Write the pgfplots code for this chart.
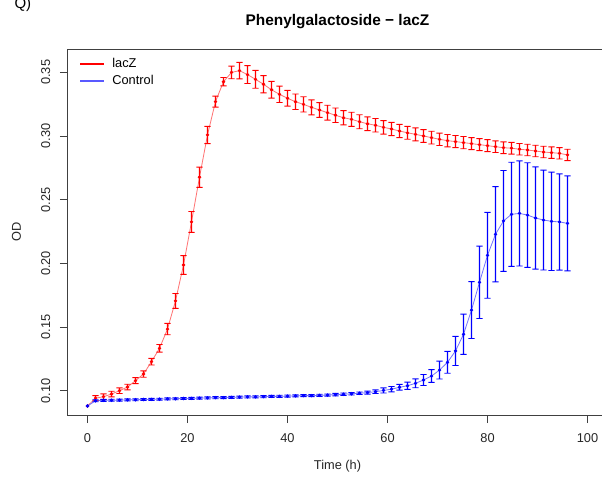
\documentclass[border=0pt]{standalone}
\usepackage{pgfplots}
\pgfplotsset{compat=1.18}
\usepackage{pgfplotstable}
\usepackage{fontspec}
\setmainfont{Liberation Sans}

\pgfdeclareplotmark{ebar}{%
  \ifdim\pgfplotmarksize>0.2bp
  \pgfpathrectangle{\pgfpoint{-0.7bp}{-\pgfplotmarksize}}{\pgfpoint{1.4bp}{2\pgfplotmarksize}}%
  \pgfpathrectangle{\pgfpoint{-3.2bp}{\pgfplotmarksize-0.45bp}}{\pgfpoint{6.4bp}{0.9bp}}%
  \pgfpathrectangle{\pgfpoint{-3.2bp}{-\pgfplotmarksize-0.45bp}}{\pgfpoint{6.4bp}{0.9bp}}%
  \pgfusepathqfill
  \fi}

\pgfplotstableread{
t y e
0 0.0880 0.0000
1.6 0.0941 0.0020
3.2 0.0953 0.0022
4.8 0.0974 0.0022
6.4 0.1000 0.0022
8.0 0.1029 0.0022
9.6 0.1079 0.0024
11.2 0.1131 0.0025
12.8 0.1228 0.0026
14.4 0.1333 0.0030
16.0 0.1484 0.0045
17.6 0.1705 0.0058
19.2 0.1987 0.0074
20.8 0.2325 0.0082
22.4 0.2676 0.0080
24.0 0.3008 0.0068
25.6 0.3270 0.0043
27.2 0.3426 0.0033
28.8 0.3499 0.0050
30.4 0.3513 0.0065
32.0 0.3482 0.0070
33.6 0.3445 0.0070
35.2 0.3406 0.0068
36.8 0.3363 0.0066
38.4 0.3327 0.0064
40.0 0.3296 0.0062
41.6 0.3269 0.0061
43.2 0.3248 0.0060
44.8 0.3225 0.0059
46.4 0.3204 0.0058
48.0 0.3183 0.0058
49.6 0.3163 0.0057
51.2 0.3143 0.0056
52.8 0.3131 0.0055
54.4 0.3112 0.0055
56.0 0.3096 0.0054
57.6 0.3084 0.0053
59.2 0.3068 0.0053
60.8 0.3055 0.0052
62.4 0.3039 0.0052
64.0 0.3025 0.0051
65.6 0.3013 0.0051
67.2 0.3000 0.0050
68.8 0.2987 0.0050
70.4 0.2974 0.0049
72.0 0.2963 0.0049
73.6 0.2956 0.0048
75.2 0.2948 0.0048
76.8 0.2940 0.0047
78.4 0.2932 0.0047
80.0 0.2924 0.0047
81.6 0.2916 0.0046
83.2 0.2908 0.0046
84.8 0.2904 0.0046
86.4 0.2896 0.0045
88.0 0.2890 0.0045
89.6 0.2882 0.0045
91.2 0.2874 0.0045
92.8 0.2869 0.0045
94.4 0.2864 0.0045
96.0 0.2851 0.0045
}\redtab

\pgfplotstableread{
t y e
0 0.0880 0.0000
1.6 0.0921 0.0008
3.2 0.0924 0.0008
4.8 0.0925 0.0008
6.4 0.0926 0.0008
8.0 0.0928 0.0008
9.6 0.0929 0.0008
11.2 0.0931 0.0008
12.8 0.0932 0.0008
14.4 0.0933 0.0008
16.0 0.0936 0.0008
17.6 0.0937 0.0008
19.2 0.0939 0.0008
20.8 0.0940 0.0008
22.4 0.0942 0.0008
24.0 0.0943 0.0008
25.6 0.0945 0.0008
27.2 0.0946 0.0008
28.8 0.0948 0.0008
30.4 0.0949 0.0008
32.0 0.0951 0.0008
33.6 0.0952 0.0008
35.2 0.0953 0.0008
36.8 0.0955 0.0008
38.4 0.0956 0.0008
40.0 0.0958 0.0008
41.6 0.0959 0.0008
43.2 0.0961 0.0008
44.8 0.0962 0.0008
46.4 0.0964 0.0008
48.0 0.0966 0.0008
49.6 0.0969 0.0010
51.2 0.0972 0.0010
52.8 0.0976 0.0010
54.4 0.0980 0.0010
56.0 0.0985 0.0012
57.6 0.0992 0.0014
59.2 0.1002 0.0020
60.8 0.1012 0.0021
62.4 0.1027 0.0023
64.0 0.1039 0.0028
65.6 0.1058 0.0035
67.2 0.1084 0.0043
68.8 0.1115 0.0050
70.4 0.1162 0.0070
72.0 0.1223 0.0086
73.6 0.1312 0.0114
75.2 0.1443 0.0158
76.8 0.1633 0.0223
78.4 0.1851 0.0284
80.0 0.2063 0.0337
81.6 0.2228 0.0374
83.2 0.2333 0.0396
84.8 0.2385 0.0409
86.4 0.2392 0.0413
88.0 0.2379 0.0411
89.6 0.2356 0.0401
91.2 0.2340 0.0392
92.8 0.2330 0.0386
94.4 0.2325 0.0378
96.0 0.2314 0.0373
}\bluetab

\begin{document}
\begin{tikzpicture}
\fill[white] (0,0) rectangle (602bp,480bp);
\begin{axis}[
  at={(67.5bp,64.5bp)}, anchor=south west,
  scale only axis, width=540bp, height=366.5bp,
  xmin=-4, xmax=104, ymin=0.08053, ymax=0.3683,
  xtick={0,20,40,60,80,100},
  xticklabels={0,20,40,60,80,100},
  ytick={0.10,0.15,0.20,0.25,0.30,0.35},
  yticklabels={0.10,0.15,0.20,0.25,0.30,0.35},
  xtick pos=bottom, ytick pos=left,
  tick align=outside, major tick length=7.7bp,
  tick style={black!75, line width=0.8bp},
  axis line style={black!75, line width=0.8bp},
  tick label style={font=\fontsize{12.8bp}{15bp}\selectfont, black!85},
  yticklabel style={rotate=90, anchor=south},
  xticklabel shift=7bp, yticklabel shift=6bp,
  title={Phenylgalactoside − lacZ},
  title style={font=\bfseries\fontsize{15.4bp}{18bp}\selectfont, at={(axis description cs:0.5,1.0573)}, anchor=center, yshift=0pt},
  xlabel={Time (h)}, ylabel={OD},
  label style={font=\fontsize{12.8bp}{15bp}\selectfont, black!85},
  xlabel style={at={(axis description cs:0.5,-0.139)}, anchor=center},
  ylabel style={at={(axis description cs:-0.0944,0.5)}, anchor=center},
  legend style={at={(axis description cs:0,1)}, anchor=north west, xshift=9bp, yshift=-5bp,
     draw=none, fill=none, font=\fontsize{12.8bp}{15bp}\selectfont,
     row sep=2bp, column sep=7bp, nodes={inner sep=2bp}},
  legend cell align=left,
]
\addlegendimage{legend image code/.code={\fill[red] (0bp,-0.4bp) rectangle (23.3bp,0.4bp);}}
\addlegendentry{lacZ}
\addlegendimage{legend image code/.code={\fill[blue!65] (0bp,-0.4bp) rectangle (23.3bp,0.4bp);}}
\addlegendentry{Control}

\addplot[red!55, line width=0.8bp, forget plot] table[x=t,y=y]{\redtab};
\addplot[only marks, color=red, mark=ebar, mark options={solid}, forget plot,
  scatter, scatter/@pre marker code/.code={\pgfsetplotmarksize{\perpointmarksize bp}},
  scatter/@post marker code/.code={},
  visualization depends on={\thisrow{e}*1273.59 \as \perpointmarksize}]
  table[x=t,y=y]{\redtab};
\addplot[only marks, color=red, mark=*, mark size=1.5bp, forget plot] table[x=t,y=y]{\redtab};

\addplot[blue!55, line width=0.8bp, forget plot] table[x=t,y=y]{\bluetab};
\addplot[only marks, color=blue, mark=ebar, mark options={solid}, forget plot,
  scatter, scatter/@pre marker code/.code={\pgfsetplotmarksize{\perpointmarksize bp}},
  scatter/@post marker code/.code={},
  visualization depends on={\thisrow{e}*1273.59 \as \perpointmarksize}]
  table[x=t,y=y]{\bluetab};
\addplot[only marks, color=blue, mark=*, mark size=1.5bp, forget plot] table[x=t,y=y]{\bluetab};
\end{axis}
\node[anchor=base west, font=\fontsize{15bp}{18bp}\selectfont] at (11bp,471bp) {Q)};
\pgfresetboundingbox
\useasboundingbox (0,0) rectangle (602bp,480bp);
\end{tikzpicture}
\end{document}
